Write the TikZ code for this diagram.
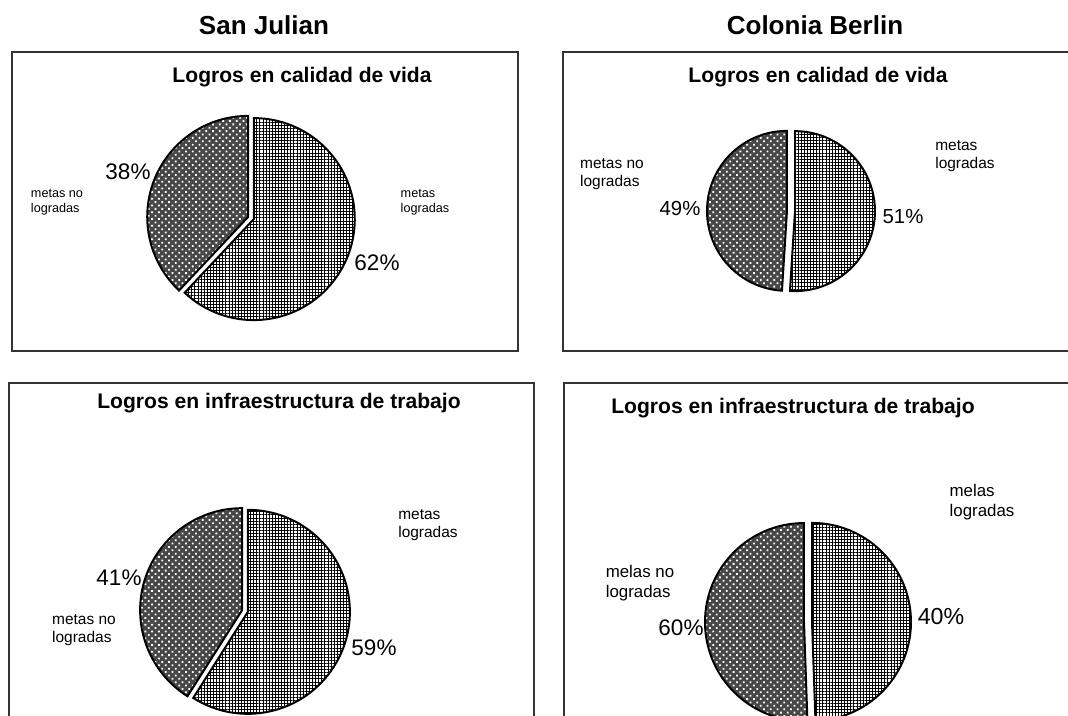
\documentclass[tikz,border=0pt]{standalone}
\usepackage{fontspec}
\setmainfont{Liberation Sans}
\usetikzlibrary{patterns.meta}
\tikzstyle{frame} = [draw=black!80, line width=0.8pt]
\tikzstyle{head}  = [black, font=\bfseries\fontsize{18.5}{22}\selectfont]
\tikzstyle{ttl}   = [black, font=\bfseries\fontsize{15}{18}\selectfont]
\tikzstyle{pct}   = [black, font=\fontsize{16}{19}\selectfont]
\tikzstyle{lbl}   = [black, align=left, font=\fontsize{11}{13}\selectfont]
\tikzstyle{nolog} = [draw=black, line width=1.4pt, preaction={fill=black!72},
                     pattern={Dots[distance=3.4pt,radius=0.9pt,angle=45]}, pattern color=white]
\tikzstyle{logr}  = [draw=black, line width=1.4pt,
                     pattern={Hatch[angle=0,distance=2.2pt,line width=0.6pt]}, pattern color=black]

\begin{document}
\begin{tikzpicture}[x=0.025cm, y=0.025cm]
           \fill[white](0, 0) rectangle (1068, 716);
           \clip(0, 0) rectangle (1068, 716);
           % frames
           \draw[frame](12, 664) rectangle (518, 365);
           \draw[frame](563, 664) rectangle (1080, 365);
           \draw[frame](9, 333) rectangle (534, -20);
           \draw[frame](564, 333) rectangle (1080, -20);
           \node[head](sj)at(264, 691){San Julian};
           \node[head](cb)at(815, 691){Colonia Berlin};
           % San Julian, calidad de vida
           \node[ttl](t1)at(302, 639){Logros en calidad de vida};
           \draw[nolog, shift={(158.4:3)}](251, 498) -- ++(90:101) arc (90:226.8:101) -- cycle;
           \draw[logr, shift={(338.4:3)}](251, 498) -- ++(226.8:101) arc (226.8:450:101) -- cycle;
           \node[pct](p1a)at(128, 544){38\%};
           \node[pct](p1b)at(377, 453){62\%};
           \node[lbl, font=\fontsize{9}{11}\selectfont](l1a)at(57, 514){metas no\\logradas};
           \node[lbl, font=\fontsize{9}{11}\selectfont](l1b)at(425, 514){metas\\logradas};
           % Colonia Berlin, calidad de vida
           \node[ttl](t2)at(818, 639){Logros en calidad de vida};
           \draw[nolog, shift={(178.2:4)}](791, 505) -- ++(90:80) arc (90:266.4:80) -- cycle;
           \draw[logr, shift={(358.2:4)}](791, 505) -- ++(266.4:80) arc (266.4:450:80) -- cycle;
           \node[pct, font=\fontsize{14.5}{17}\selectfont](p2a)at(680, 508){49\%};
           \node[pct, font=\fontsize{14.5}{17}\selectfont](p2b)at(903, 499){51\%};
           \node[lbl](l2a)at(612, 542){metas  no\\logradas};
           \node[lbl](l2b)at(965, 560){metas\\logradas};
           % San Julian, infraestructura
           \node[ttl](t3)at(279, 313){Logros en infraestructura de trabajo};
           \draw[nolog, shift={(163.8:3)}](245, 105) -- ++(90:102) arc (90:237.6:102) -- cycle;
           \draw[logr, shift={(343.8:3)}](245, 105) -- ++(237.6:102) arc (237.6:450:102) -- cycle;
           \node[pct](p3a)at(119, 138){41\%};
           \node[pct](p3b)at(374, 68){59\%};
           \node[lbl](l3a)at(84, 86){metas no\\logradas};
           \node[lbl](l3b)at(428, 191){metas\\logradas};
           % Colonia Berlin, infraestructura
           \node[ttl](t4)at(793, 308){Logros en infraestructura de trabajo};
           \draw[nolog, shift={(181:4)}](808, 94) -- ++(90:99) arc (90:272:99) -- cycle;
           \draw[logr, shift={(1:4)}](808, 94) -- ++(272:99) arc (272:450:99) -- cycle;
           \node[pct](p4a)at(681, 88){60\%};
           \node[pct, font=\fontsize{16.5}{19}\selectfont](p4b)at(941, 99){40\%};
           \node[lbl, font=\fontsize{12}{14}\selectfont](l4a)at(640, 133){melas no\\logradas};
           \node[lbl, font=\fontsize{12}{14}\selectfont](l4b)at(982, 214){melas\\logradas};
       \end{tikzpicture}
\end{document}
